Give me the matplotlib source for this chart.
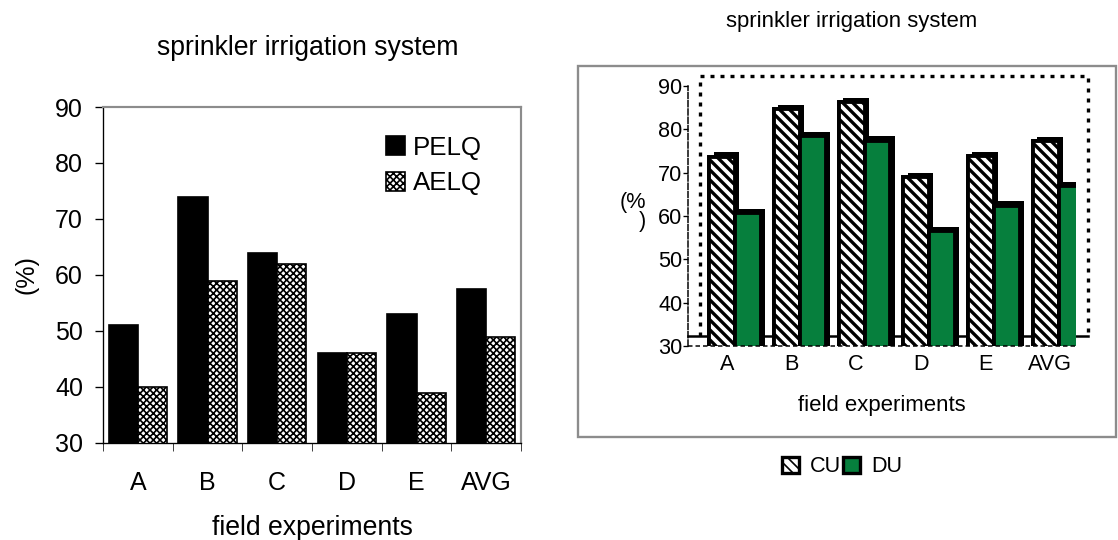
import numpy as np
import matplotlib
matplotlib.use('Agg')
import matplotlib.pyplot as plt
import matplotlib.patheffects as pe
from matplotlib.patches import Patch, Rectangle

plt.rcParams['font.family'] = ['Liberation Sans', 'DejaVu Sans']

experiments = ['A', 'B', 'C', 'D', 'E', 'AVG']

# left chart: efficiency of low quarter
pelq = [51, 74, 64, 46, 53, 57.5]
aelq = [40, 59, 62, 46, 39, 49]

# right chart: uniformity
cu = [73.7, 84.6, 86.3, 68.9, 73.9, 77.3]
du = [60.6, 78.4, 77.4, 56.6, 62.4, 67.0]

GREEN = '#067f3d'
W, H = 1118, 540
fig = plt.figure(figsize=(W / 120, H / 120), dpi=120)


def box(x0, y0, x1, y1):
    # pixel box -> figure fraction rect
    return [x0 / W, 1 - y1 / H, (x1 - x0) / W, (y1 - y0) / H]


def hatch_width(bars, lw):
    for p in bars:
        if hasattr(p, 'set_hatch_linewidth'):
            p.set_hatch_linewidth(lw)


x = np.arange(len(experiments))

# ---------- left: PELQ / AELQ ----------
ax1 = fig.add_axes(box(103, 107, 521, 443))
bw = 0.42
with plt.rc_context({'hatch.linewidth': 1.0}):
    ax1.bar(x - bw / 2, pelq, bw, color='black', edgecolor='black',
            linewidth=1, label='PELQ')
    b2 = ax1.bar(x + bw / 2, aelq, bw, color='white', edgecolor='black',
                 linewidth=1, hatch='xxxxxx', label='AELQ')
hatch_width(b2, 1.0)

ax1.set_xlim(-0.5, 5.5)
ax1.set_ylim(30, 90)
ax1.set_yticks(range(30, 91, 10))
ax1.set_xticks(x)
ax1.set_xticklabels(experiments)
ax1.set_xticks(np.arange(-0.5, 6, 1), minor=True)
ax1.tick_params(axis='x', which='major', length=0, pad=17, labelsize=15)
ax1.tick_params(axis='x', which='minor', length=5, direction='out', color='#444')
ax1.tick_params(axis='y', length=5, pad=7, labelsize=15)
for s in ['top', 'right']:
    ax1.spines[s].set_color('#8c8c8c')
    ax1.spines[s].set_linewidth(1.3)
ax1.spines['left'].set_linewidth(0.8)
ax1.spines['bottom'].set_linewidth(0.8)
ax1.set_xlabel('field experiments', fontsize=16, labelpad=12)
fig.text(27 / W, 1 - 275 / H, '(%)', rotation=90, fontsize=15,
         ha='center', va='center')
fig.text(308 / W, 1 - 55 / H, 'sprinkler irrigation system', fontsize=16,
         ha='center', va='baseline')
ax1.legend(loc='upper left', bbox_to_anchor=(0.652, 0.945), frameon=False,
           fontsize=15.5, handlelength=0.75, handleheight=0.75,
           handletextpad=0.3, labelspacing=0.45, borderaxespad=0)

# ---------- right: CU / DU ----------
fig.patches.append(Rectangle((578 / W, 1 - 437 / H), 538 / W, 371 / H,
                             transform=fig.transFigure, fill=False,
                             edgecolor='#8c8c8c', linewidth=1.4))

ax2 = fig.add_axes(box(688, 86, 1076, 346))
ax2.set_facecolor('none')
depth = [pe.withSimplePatchShadow(offset=(2.5, 2.5), shadow_rgbFace='black',
                                  alpha=1.0), pe.Normal()]
w2 = 0.4
with plt.rc_context({'hatch.linewidth': 2.0}):
    c1 = ax2.bar(x - 0.27 + w2 / 2, cu, w2, color='white', edgecolor='black',
                 linewidth=2.3, hatch='\\\\\\\\', zorder=3)
hatch_width(c1, 2.0)
c2 = ax2.bar(x + 0.13 + w2 / 2, du, w2, color=GREEN, edgecolor='black',
             linewidth=2.3, zorder=3)
for p in list(c1) + list(c2):
    p.set_path_effects(depth)

ax2.set_xlim(-0.6, 5.4)
ax2.set_ylim(30, 90)
ax2.set_yticks(range(30, 91, 10))
ax2.set_xticks(x)
ax2.set_xticklabels(experiments)
ax2.tick_params(axis='x', length=0, pad=5, labelsize=13)
ax2.tick_params(axis='y', length=3, pad=0.5, labelsize=13, width=0.8)
for s in ['top', 'right', 'bottom']:
    ax2.spines[s].set_visible(False)
ax2.spines['left'].set_linestyle((0, (4, 1.5)))
ax2.spines['left'].set_linewidth(0.9)

# back wall and floor of the 3-D plot area
dx, dy = 12 / 388, 10 / 260
tr = ax2.transAxes
ax2.plot([dx, dx, 1 + dx, 1 + dx], [dy, 1 + dy, 1 + dy, dy], transform=tr,
         color='black', linestyle=(0, (1.2, 1.8)), linewidth=2, clip_on=False,
         zorder=1)
ax2.plot([0, 1 + dx], [dy, dy], transform=tr, color='black', linewidth=1.5,
         clip_on=False, zorder=2)
ax2.plot([0, 1], [0, 0], transform=tr, color='black',
         linestyle=(0, (3, 2)), linewidth=0.9, clip_on=False, zorder=4)

ax2.set_xlabel('field experiments', fontsize=13.3, labelpad=12)
fig.text(646 / W, 1 - 212 / H, '(%\n)', fontsize=13, ha='right',
         va='center', multialignment='right', linespacing=0.9)
fig.text(852 / W, 1 - 27 / H, 'sprinkler irrigation system', fontsize=13.3,
         ha='center', va='baseline')

handles = [Patch(facecolor='white', edgecolor='black', linewidth=2,
                 hatch='\\\\\\\\', label='CU'),
           Patch(facecolor=GREEN, edgecolor='black', linewidth=2, label='DU')]
fig.legend(handles=handles, loc='center', bbox_to_anchor=(842 / W, 1 - 467 / H),
           ncol=2, frameon=False, fontsize=13, handlelength=0.8,
           handleheight=0.8, handletextpad=0.5, columnspacing=0.1)

fig.savefig('out.png', dpi=120)
